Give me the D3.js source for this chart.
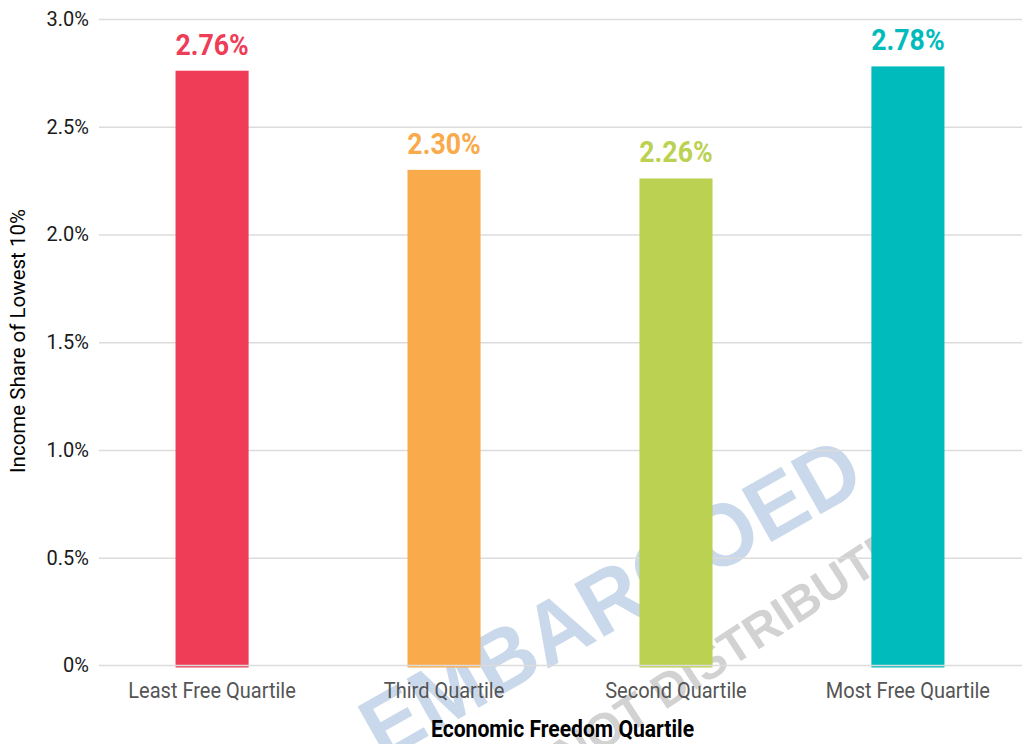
<!DOCTYPE html>
<html>
<head>
<meta charset="utf-8">
<script src="https://cdn.jsdelivr.net/npm/d3@7"></script>
<style>
  html, body { margin: 0; padding: 0; background: #fff; }
  svg { display: block; }
</style>
</head>
<body>
<svg id="chart" width="1029" height="744"></svg>
<script>
// ---- data ----
const categories = ["Least Free Quartile", "Third Quartile", "Second Quartile", "Most Free Quartile"];
const values = [2.76, 2.30, 2.26, 2.78];
const colors = ["#ef3c57", "#f9aa4b", "#bbd152", "#00bbbc"];
const yTicks = [0, 0.5, 1.0, 1.5, 2.0, 2.5, 3.0];
const yTitle = "Income Share of Lowest 10%";
const xTitle = "Economic Freedom Quartile";

(function () {
const svg = d3.select("#chart");
const mLeft = 99, mRight = 1021, mTop = 19, mBottom = 665.5, gridEnd = 1022;

const x = d3.scaleBand().domain(categories).range([mLeft, mRight])
  .paddingInner(0.685).paddingOuter(0.33);
const y = d3.scaleLinear().domain([0, 3]).range([mBottom, mTop]);

// watermark (background)
const wm = svg.append("g").attr("pointer-events", "none");
wm.append("text")
  .attr("transform", "translate(610,597) rotate(-29.5) scale(0.96,1)")
  .attr("text-anchor", "middle").attr("dy", "0.36em")
  .attr("font-family", "Liberation Sans, Arial, sans-serif").attr("font-weight", "bold")
  .attr("font-size", 88).attr("fill", "#c9d9eb")
  .text("EMBARGOED");
wm.append("text")
  .attr("transform", "translate(692,672) rotate(-33)")
  .attr("text-anchor", "middle").attr("dy", "0.36em")
  .attr("font-family", "Liberation Sans, Arial, sans-serif").attr("font-weight", "bold")
  .attr("font-size", 48).attr("fill", "#d2d2d2")
  .text("DO NOT DISTRIBUTE");

// gridlines (excluding baseline)
const yAxis = d3.axisLeft(y).tickValues(yTicks)
  .tickSize(-(gridEnd - mLeft)).tickPadding(10)
  .tickFormat(d => d === 0 ? "0%" : d3.format(".1f")(d) + "%");
const gy = svg.append("g").attr("transform", `translate(${mLeft},0)`).call(yAxis);
gy.select(".domain").remove();
gy.selectAll(".tick line").attr("stroke", "#dcdcdc").attr("stroke-width", 1.6);
gy.selectAll(".tick text").attr("font-family", "Roboto, sans-serif").attr("font-size", 20)
  .attr("fill", "#1a1a1a").attr("x", -10);
gy.selectAll(".tick").filter(d => d === 0).select("line").remove();

// bars
svg.append("g").selectAll("rect").data(values).join("rect")
  .attr("x", (d, i) => x(categories[i]))
  .attr("width", x.bandwidth())
  .attr("y", d => y(d))
  .attr("height", d => y(0) - y(d) + 2)
  .attr("fill", (d, i) => colors[i]);

// baseline over bars
svg.append("line")
  .attr("x1", mLeft).attr("x2", gridEnd).attr("y1", y(0)).attr("y2", y(0))
  .attr("stroke", "#dcdcdc").attr("stroke-width", 1.6);

// value labels
svg.append("g").selectAll("text").data(values).join("text")
  .attr("transform", (d, i) => `translate(${x(categories[i]) + x.bandwidth() / 2},${y(d) - 16}) scale(0.92,1)`)
  .attr("text-anchor", "middle")
  .attr("font-family", "Roboto, sans-serif").attr("font-weight", "bold").attr("font-size", 29)
  .attr("fill", (d, i) => colors[i])
  .text(d => d3.format(".2f")(d) + "%");

// x axis labels
const xAxis = d3.axisBottom(x).tickSize(0).tickPadding(0);
const gx = svg.append("g").attr("transform", `translate(0,${mBottom})`).call(xAxis);
gx.select(".domain").remove();
gx.selectAll(".tick text")
  .attr("y", 0).attr("dy", 0)
  .attr("transform", "translate(0,32) scale(0.91,1)")
  .attr("font-family", "Roboto, sans-serif").attr("font-size", 22).attr("fill", "#555");

// axis titles
svg.append("text")
  .attr("transform", `translate(${(mLeft + gridEnd) / 2 + 2},737) scale(0.88,1)`)
  .attr("text-anchor", "middle")
  .attr("font-family", "Roboto, sans-serif").attr("font-weight", "bold").attr("font-size", 24)
  .attr("fill", "#000").text(xTitle);

svg.append("text")
  .attr("transform", `translate(25,341) rotate(-90)`)
  .attr("text-anchor", "middle")
  .attr("font-family", "Roboto, sans-serif").attr("font-size", 20.5)
  .attr("fill", "#000").text(yTitle);
})();
</script>
</body>
</html>
